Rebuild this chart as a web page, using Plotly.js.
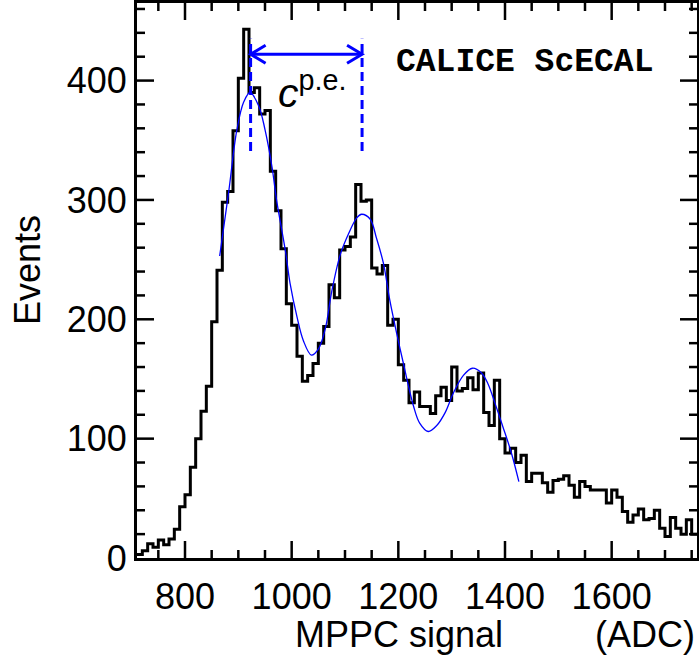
<!DOCTYPE html>
<html>
<head>
<meta charset="utf-8">
<script src="https://cdn.plot.ly/plotly-3.0.1.min.js"></script>
<style>html,body{margin:0;padding:0;background:#fff;}#chart{width:699px;height:655px;}</style>
</head>
<body>
<div id="chart"></div>
<script>
// Histogram binning (ADC)
const binStart = 710;
const binWidth = 10;
// Events per bin
const counts = [
  3, 6, 12, 9, 15, 11, 16, 24, 43, 53,
  76, 100, 123, 144, 198, 241, 298, 307, 358, 402,
  443, 390, 394, 372, 375, 324, 291, 259, 213, 195,
  169, 148, 153, 163, 180, 194, 229, 218, 258, 261,
  269, 313, 299, 300, 243, 238, 245, 195, 200, 162,
  149, 130, 139, 127, 127, 121, 136, 143, 132, 160,
  140, 142, 151, 141, 155, 122, 111, 149, 100, 88,
  92, 80, 86, 64, 71, 71, 63, 55, 65, 66,
  69, 61, 51, 64, 60, 57, 57, 57, 46, 57,
  51, 39, 30, 36, 41, 32, 33, 40, 25, 18,
  34, 25, 20, 32, 20
];
// Fit curve
const fitX = [865, 882, 897, 910, 922, 938, 950, 963, 972, 988, 997, 1010, 1022, 1037, 1050, 1063, 1075, 1091, 1106, 1122, 1131, 1147, 1159, 1172, 1184, 1197, 1209, 1228, 1240, 1256, 1272, 1288, 1303, 1322, 1339, 1356, 1368, 1381, 1396, 1412, 1426];
const fitY = [253, 307, 358, 382, 390, 379, 359, 328, 299, 258, 230, 202, 182, 170, 175, 192, 223, 254, 271, 285, 288, 284, 268, 247, 216, 188, 164, 128, 113, 106, 111, 122, 138, 153, 159, 155, 146, 130, 110, 88, 64];
// Photo-electron peak positions (ADC)
const pePeaks = [923, 1132];
// Tick spacing
const xMajor = 200, xMinorStep = 50, yMajor = 100, yMinorStep = 20;

const edgesX = [];
const stepY = [];
for (let i = 0; i < counts.length; i++) { edgesX.push(binStart + i * binWidth); stepY.push(counts[i]); }
edgesX.push(binStart + counts.length * binWidth); stepY.push(counts[counts.length - 1]);

const FONT = 'Liberation Sans, Arial, Helvetica, sans-serif';
const arrowY = 422, dashLo = 341, dashHi = 435;
const xRange = [710, 1760], yRange = [0, 465];
const W = 699, H = 655, M = {l: 137, r: 2, t: 3, b: 97};
const MAJ = 17, MIN = 8;
const pxPerX = (W - M.l - M.r) / (xRange[1] - xRange[0]);
const pxPerY = (H - M.t - M.b) / (yRange[1] - yRange[0]);

// Inside tick marks on all four sides, built from the tick spacing
const tkX = [], tkY = [];
const firstX = Math.ceil(xRange[0] / xMinorStep) * xMinorStep;
for (let v = firstX; v <= xRange[1]; v += xMinorStep) {
  const len = ((v % xMajor === 0) ? MAJ : MIN) / pxPerY;
  tkX.push(v, v, null, v, v, null);
  tkY.push(yRange[0], yRange[0] + len, null, yRange[1], yRange[1] - len, null);
}
for (let v = yRange[0] + yMinorStep; v <= yRange[1]; v += yMinorStep) {
  const len = ((v % yMajor === 0) ? MAJ : MIN) / pxPerX;
  tkX.push(xRange[0], xRange[0] + len, null, xRange[1], xRange[1] - len, null);
  tkY.push(v, v, null, v, v, null);
}

const traces = [
  {x: edgesX, y: stepY, type: 'scatter', mode: 'lines', line: {shape: 'hv', color: '#000', width: 3}, hoverinfo: 'skip'},
  {x: fitX, y: fitY, type: 'scatter', mode: 'lines', line: {shape: 'spline', smoothing: 1, color: '#0000ff', width: 1.3}, hoverinfo: 'skip'},
  {x: tkX, y: tkY, type: 'scatter', mode: 'lines', connectgaps: false, line: {color: '#000', width: 2.5}, hoverinfo: 'skip'}
];

const tickFont = {family: FONT, size: 36, color: '#000'};

const layout = {
  width: W, height: H,
  margin: M,
  showlegend: false,
  xaxis: {
    range: xRange, tickmode: 'linear', tick0: 0, dtick: xMajor, ticks: '',
    showline: true, linewidth: 3, linecolor: '#000', mirror: true,
    showgrid: false, zeroline: false, tickfont: tickFont, ticklabelstandoff: 5
  },
  yaxis: {
    range: yRange, tickmode: 'linear', tick0: 0, dtick: yMajor, ticks: '',
    showline: true, linewidth: 3, linecolor: '#000', mirror: true,
    showgrid: false, zeroline: false, tickfont: tickFont
  },
  shapes: [
    {type: 'line', xref: 'x', yref: 'y', x0: pePeaks[0], x1: pePeaks[1], y0: arrowY, y1: arrowY, line: {color: '#0000ff', width: 3}},
    {type: 'line', xref: 'x', yref: 'y', x0: pePeaks[0], x1: pePeaks[0], y0: dashLo, y1: dashHi, line: {color: '#0000ff', width: 3, dash: '9px,5px'}},
    {type: 'line', xref: 'x', yref: 'y', x0: pePeaks[1], x1: pePeaks[1], y0: dashLo, y1: dashHi, line: {color: '#0000ff', width: 3, dash: '9px,5px'}},
    {type: 'path', xref: 'x', yref: 'y', xsizemode: 'pixel', ysizemode: 'pixel', xanchor: pePeaks[0], yanchor: arrowY, path: 'M 15 9 L 0 0 L 15 -9', line: {color: '#0000ff', width: 3}},
    {type: 'path', xref: 'x', yref: 'y', xsizemode: 'pixel', ysizemode: 'pixel', xanchor: pePeaks[1], yanchor: arrowY, path: 'M -15 9 L 0 0 L -15 -9', line: {color: '#0000ff', width: 3}}
  ],
  annotations: [
    {xref: 'x', yref: 'y', x: 1437, y: 415, text: '<b>CALICE ScECAL</b>', showarrow: false, xanchor: 'center', yanchor: 'middle', font: {family: 'Liberation Mono, Courier New, monospace', size: 33, color: '#000'}},
    {xref: 'x', yref: 'y', x: 1038, y: 392, text: '<i>c</i><sup>p.e.</sup>', showarrow: false, xanchor: 'center', yanchor: 'middle', font: {family: FONT, size: 41, color: '#000'}},
    {xref: 'paper', yref: 'paper', x: -0.1946, y: 0.519, text: 'Events', textangle: -90, showarrow: false, xanchor: 'center', yanchor: 'middle', font: {family: FONT, size: 36, color: '#000'}},
    {xref: 'paper', yref: 'paper', x: 0.468, y: -0.137, text: 'MPPC signal', showarrow: false, xanchor: 'center', yanchor: 'middle', font: {family: FONT, size: 36, color: '#000'}},
    {xref: 'paper', yref: 'paper', x: 1.0, y: -0.137, text: '(ADC)', showarrow: false, xanchor: 'right', yanchor: 'middle', font: {family: FONT, size: 36, color: '#000'}}
  ]
};

Plotly.newPlot('chart', traces, layout, {staticPlot: true, displayModeBar: false});
</script>
</body>
</html>
